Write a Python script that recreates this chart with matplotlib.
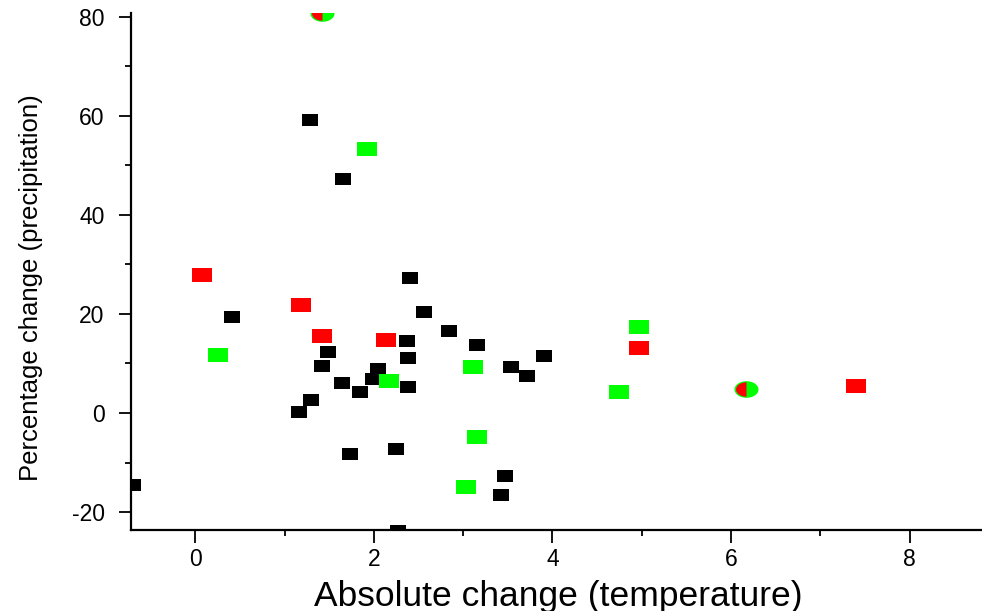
import numpy as np
import matplotlib
matplotlib.use('Agg')
from matplotlib import pyplot as plt
from matplotlib.ticker import MultipleLocator

plt.rcParams['font.family'] = ['Liberation Sans', 'DejaVu Sans']
plt.rcParams['axes.unicode_minus'] = False

# Donnees
noir_x = [1.28, 1.65, 0.41, 2.40, 2.56, 2.84, 2.37, 3.15, 1.49, 2.38, 3.91, 1.42, 3.54,
          3.71, 2.05, 1.99, 1.64, 1.84, 2.38, 1.30, 1.16, 1.73, 2.25, 3.47, 3.42, -0.70, 2.27]
noir_y = [59.2, 47.2, 19.4, 27.3, 20.4, 16.6, 14.6, 13.8, 12.4, 11.2, 11.6, 9.4, 9.2,
          7.4, 8.8, 6.8, 6.0, 4.3, 5.3, 2.7, 0.3, -8.2, -7.2, -12.8, -16.5, -14.5, -23.8]

vert_x = [1.92, 0.25, 2.17, 3.11, 3.15, 3.03, 4.75, 4.97]
vert_y = [53.3, 11.8, 6.4, 9.3, -4.9, -14.9, 4.3, 17.4]

rouge_x = [0.08, 1.18, 1.42, 2.14, 4.97, 7.40]
rouge_y = [27.8, 21.7, 15.6, 14.8, 13.1, 5.4]

mixte_x = [6.17, 1.42]
mixte_y = [4.9, 80.7]

# Formes des marqueurs (rectangles etires)
rect = [(-1.45, -1), (1.45, -1), (1.45, 1), (-1.45, 1), (-1.45, -1)]
t = np.linspace(0, 2 * np.pi, 60)
ellipse = np.column_stack([1.45 * np.cos(t), np.sin(t)])
t2 = np.linspace(np.pi / 2, 3 * np.pi / 2, 30)
demi_gauche = np.column_stack([1.45 * np.cos(t2), np.sin(t2)])

fig = plt.figure(figsize=(9.82, 6.11), dpi=100)
ax = fig.add_axes([0.1334, 0.1326, 0.8666, 0.846])

ax.scatter(noir_x, noir_y, marker=rect, s=11.5 ** 2, c='black', linewidths=0, zorder=3)
ax.scatter(vert_x, vert_y, marker=rect, s=15.1 ** 2, c='#00ff00', linewidths=0, zorder=4)
ax.scatter(rouge_x, rouge_y, marker=rect, s=15.1 ** 2, c='#ff0000', linewidths=0, zorder=4)
ax.scatter(mixte_x, mixte_y, marker=ellipse, s=17.3 ** 2, c='#00ff00', linewidths=0, zorder=5)
ax.scatter(mixte_x, mixte_y, marker=demi_gauche, s=15.0 ** 2, c='#ff0000', linewidths=0, zorder=6)

ax.set_xlim(-0.72, 8.81)
ax.set_ylim(-23.6, 80.7)

ax.spines['top'].set_visible(False)
ax.spines['right'].set_visible(False)
ax.spines['left'].set_linewidth(1.6)
ax.spines['bottom'].set_linewidth(1.6)

ax.xaxis.set_major_locator(MultipleLocator(2))
ax.xaxis.set_minor_locator(MultipleLocator(1))
ax.yaxis.set_major_locator(MultipleLocator(20))
ax.yaxis.set_minor_locator(MultipleLocator(10))
ax.tick_params(which='major', direction='out', length=9, width=1.3, labelsize=16.5)
ax.tick_params(which='minor', direction='out', length=4, width=1.3)
ax.tick_params(axis='y', which='major', pad=10)
ax.tick_params(axis='x', which='major', pad=4)

ax.set_xlabel('Absolute change (temperature)', fontsize=25.5)
ax.set_ylabel('Percentage change (precipitation)', fontsize=18.5)
ax.xaxis.set_label_coords(0.502, -0.096)
ax.yaxis.set_label_coords(-0.103, 0.468)

fig.savefig('out.png', dpi=100)
